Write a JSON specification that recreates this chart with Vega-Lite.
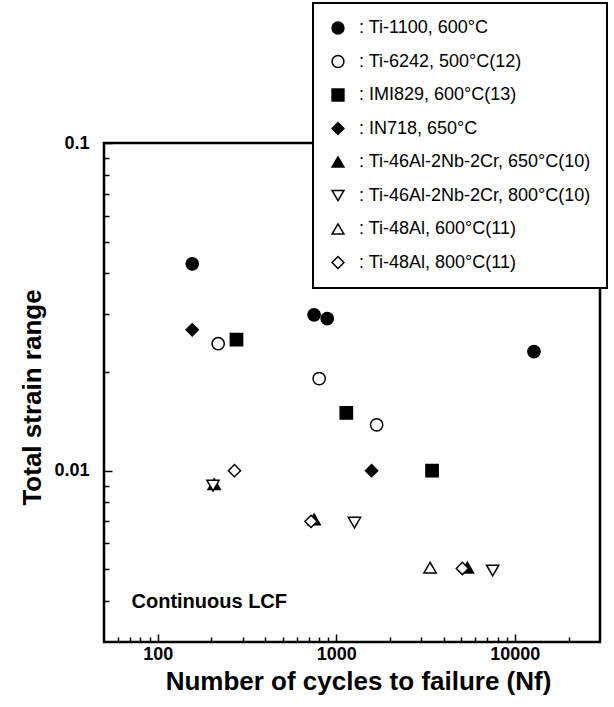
{
  "$schema": "https://vega.github.io/schema/vega-lite/v6.json",
  "width": 496,
  "height": 499,
  "autosize": {"type": "none"},
  "padding": {"left": 104, "top": 143, "right": 14, "bottom": 65},
  "background": "white",
  "config": {
    "view": {"stroke": "black", "strokeWidth": 2.5},
    "font": "Liberation Sans",
    "axis": {"domain": false, "grid": false, "tickColor": "black", "tickWidth": 1.5, "labelColor": "black", "titleColor": "black", "labelFontWeight": "bold", "titleFontWeight": "bold", "labelFont": "Liberation Sans", "titleFont": "Liberation Sans", "labelFontSize": 18},
    "legend": {"strokeWidth": 2}
  },
  "resolve": {"scale": {"x": "independent", "y": "independent"}, "axis": {"x": "independent", "y": "independent"}},
  "layer": [
    {
      "data": {"values": [
        {"series": "Ti-1100, 600°C", "cycles": 156, "strain": 0.0428},
        {"series": "Ti-1100, 600°C", "cycles": 751, "strain": 0.0299},
        {"series": "Ti-1100, 600°C", "cycles": 890, "strain": 0.0291},
        {"series": "Ti-1100, 600°C", "cycles": 12800, "strain": 0.0231},
        {"series": "IMI829, 600°C(13)", "cycles": 276, "strain": 0.0251},
        {"series": "IMI829, 600°C(13)", "cycles": 1138, "strain": 0.0150},
        {"series": "IMI829, 600°C(13)", "cycles": 3440, "strain": 0.0100},
        {"series": "IN718, 650°C", "cycles": 156, "strain": 0.0269},
        {"series": "IN718, 650°C", "cycles": 1577, "strain": 0.0100},
        {"series": "Ti-46Al-2Nb-2Cr, 650°C(10)", "cycles": 207, "strain": 0.0091},
        {"series": "Ti-46Al-2Nb-2Cr, 650°C(10)", "cycles": 751, "strain": 0.0071},
        {"series": "Ti-46Al-2Nb-2Cr, 650°C(10)", "cycles": 5423, "strain": 0.00506},
        {"series": "Ti-6242, 500°C(12)", "cycles": 218, "strain": 0.0244},
        {"series": "Ti-6242, 500°C(12)", "cycles": 802, "strain": 0.0191},
        {"series": "Ti-6242, 500°C(12)", "cycles": 1683, "strain": 0.0138},
        {"series": "Ti-46Al-2Nb-2Cr, 800°C(10)", "cycles": 204, "strain": 0.0090},
        {"series": "Ti-46Al-2Nb-2Cr, 800°C(10)", "cycles": 1264, "strain": 0.00694},
        {"series": "Ti-46Al-2Nb-2Cr, 800°C(10)", "cycles": 7516, "strain": 0.00496},
        {"series": "Ti-48Al, 600°C(11)", "cycles": 3352, "strain": 0.00506},
        {"series": "Ti-48Al, 800°C(11)", "cycles": 269, "strain": 0.0100},
        {"series": "Ti-48Al, 800°C(11)", "cycles": 722, "strain": 0.0070},
        {"series": "Ti-48Al, 800°C(11)", "cycles": 5086, "strain": 0.00503}
      ]},
      "mark": {"type": "point", "filled": true, "stroke": "black", "strokeWidth": 1.5, "size": 150, "opacity": 1, "fillOpacity": 1},
      "encoding": {
        "x": {"field": "cycles", "type": "quantitative", "scale": {"type": "log", "domain": [50, 30000], "nice": false},
          "axis": {"orient": "bottom", "title": null, "labels": false, "tickSize": -5,
            "values": [60,70,80,90,200,300,400,500,600,700,800,900,2000,3000,4000,5000,6000,7000,8000,9000,20000]}},
        "y": {"field": "strain", "type": "quantitative", "scale": {"type": "log", "domain": [0.003, 0.1], "nice": false},
          "axis": {"orient": "left", "title": null, "labels": false, "tickSize": -5,
            "values": [0.004,0.005,0.006,0.007,0.008,0.009,0.02,0.03,0.04,0.05,0.06,0.07,0.08,0.09]}},
        "shape": {"field": "series", "type": "nominal",
          "scale": {"domain": ["Ti-1100, 600°C", "Ti-6242, 500°C(12)", "IMI829, 600°C(13)", "IN718, 650°C", "Ti-46Al-2Nb-2Cr, 650°C(10)", "Ti-46Al-2Nb-2Cr, 800°C(10)", "Ti-48Al, 600°C(11)", "Ti-48Al, 800°C(11)"],
            "range": ["circle", "circle", "square", "diamond", "triangle-up", "triangle-down", "triangle-up", "diamond"]},
          "legend": {"title": null, "orient": "none", "legendX": 209, "legendY": -140, "padding": 16, "strokeColor": "black", "fillColor": "white", "labelFontSize": 18, "labelFont": "Liberation Sans", "labelColor": "black", "symbolSize": 140, "rowPadding": 15.5, "labelOffset": 12, "labelExpr": "': ' + datum.label", "labelLimit": 0, "symbolOpacity": 1,
            "encode": {"symbols": {"update": {"stroke": {"value": "black"}, "strokeWidth": {"value": 1.5}}}}}},
        "fill": {"field": "series", "type": "nominal",
          "scale": {"domain": ["Ti-1100, 600°C", "Ti-6242, 500°C(12)", "IMI829, 600°C(13)", "IN718, 650°C", "Ti-46Al-2Nb-2Cr, 650°C(10)", "Ti-46Al-2Nb-2Cr, 800°C(10)", "Ti-48Al, 600°C(11)", "Ti-48Al, 800°C(11)"],
            "range": ["black", "white", "black", "black", "black", "white", "white", "white"]},
          "legend": {"title": null, "orient": "none", "legendX": 209, "legendY": -140, "padding": 16, "strokeColor": "black", "fillColor": "white", "labelFontSize": 18, "labelFont": "Liberation Sans", "labelColor": "black", "symbolSize": 140, "rowPadding": 15.5, "labelOffset": 12, "labelExpr": "': ' + datum.label", "labelLimit": 0, "symbolOpacity": 1,
            "encode": {"symbols": {"update": {"stroke": {"value": "black"}, "strokeWidth": {"value": 1.5}}}}}}
      }
    },
    {
      "data": {"values": [{"cycles": 71.3, "strain": 0.00396, "label": "Continuous LCF"}]},
      "mark": {"type": "text", "align": "left", "baseline": "middle", "fontSize": 20, "fontWeight": "bold", "font": "Liberation Sans", "color": "black"},
      "encoding": {
        "x": {"field": "cycles", "type": "quantitative", "scale": {"type": "log", "domain": [50, 30000], "nice": false},
          "axis": {"orient": "bottom", "title": "Number of cycles to failure (Nf)", "titleFontSize": 26, "titleX": 254, "format": "d", "tickSize": -8,
            "values": [100, 1000, 10000], "labelPadding": 11, "titlePadding": 5, "labelFlush": false}},
        "y": {"field": "strain", "type": "quantitative", "scale": {"type": "log", "domain": [0.003, 0.1], "nice": false},
          "axis": {"orient": "left", "title": "Total strain range", "titleFontSize": 26, "titleY": 254, "tickSize": -8,
            "values": [0.01, 0.1], "labelExpr": "datum.value == 0.1 ? '0.1' : '0.01'", "labelPadding": 23, "titlePadding": 8, "labelFlush": false}},
        "text": {"field": "label"}
      }
    }
  ]
}
